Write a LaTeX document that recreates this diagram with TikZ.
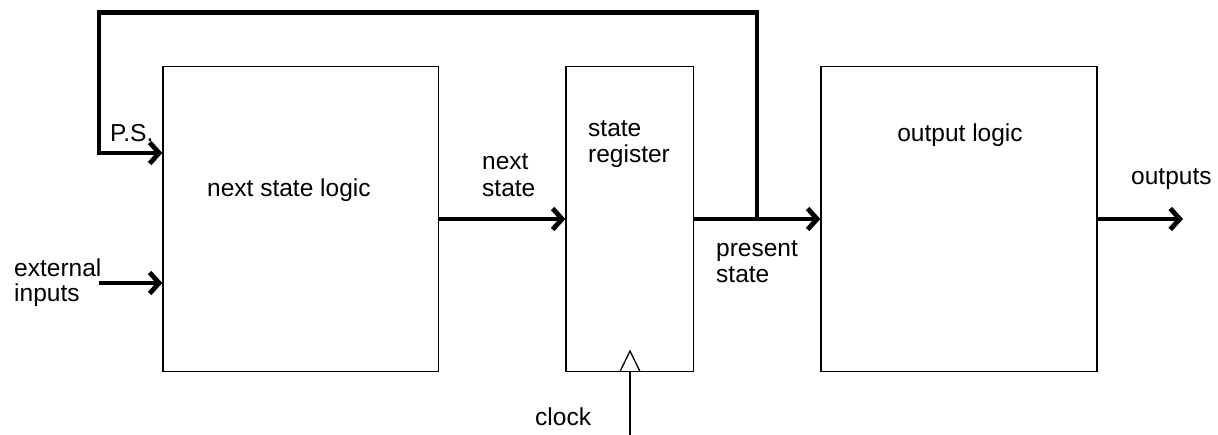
\documentclass[tikz,border=0pt]{standalone}
\usepackage{fontspec}
\setmainfont{Liberation Sans}
\usetikzlibrary{arrows.meta}
\begin{document}
\begin{tikzpicture}[x=1pt,y=-1pt,
  blk/.style={draw, line width=1.3pt, inner sep=0pt},
  bus/.style={line width=4.8pt, line join=miter},
  arr/.style={bus, -{Straight Barb[length=9.5pt,width=21pt]}},
  thin/.style={line width=1.3pt},
  lbl/.style={anchor=base west, inner sep=0pt, font=\fontsize{24.5}{28}\selectfont}]
\useasboundingbox (0,0) rectangle (1218,435);

% blocks
\node[blk, minimum width=275.5pt, minimum height=305pt] (nsl) at (300.75,219) {};
\node[blk, minimum width=127.5pt, minimum height=305pt] (sr)  at (629.75,219) {};
\node[blk, minimum width=276pt,   minimum height=305pt] (ol)  at (959,219) {};

% block labels
\node[lbl] (tnsl) at (207,197) {next state logic};
\node[lbl] (tsr1) at (588,137) {state};
\node[lbl] (tsr2) at (588,163) {register};
\node[lbl, anchor=base] (tol) at (960,142) {output logic};

% clock input
\draw[thin] (620,371.5) coordinate (ck1) -- (630,351) -- (640,371.5);
\coordinate (ckin) at (630,435);
\draw[thin] (ckin) -- (630,371.5);
\node[lbl] (tck) at (535,425) {clock};

% signal paths
\draw[arr] (nsl.east) -- (sr.west);
\draw[arr] (sr.east) -- (ol.west);
\coordinate (j) at (757,219);
\coordinate (fbtop) at (757,12.5);
\coordinate (fbleft) at (99,153);
\draw[arr] (j) -- (fbtop) -| (fbleft) -- (nsl.west |- fbleft);
\coordinate (ext) at (99,283);
\draw[arr] (ext) -- (nsl.west |- ext);
\coordinate (out) at (1183,219);
\draw[arr] (ol.east) -- (out);

% signal labels
\node[lbl] (tps) at (110,142) {P.S.};
\node[lbl] (tex1) at (14,277) {external};
\node[lbl] (tex2) at (14,302) {inputs};
\node[lbl] (tns1) at (482,170) {next};
\node[lbl] (tns2) at (482,197) {state};
\node[lbl] (tpr1) at (716,257) {present};
\node[lbl] (tpr2) at (716,283) {state};
\node[lbl] (tout) at (1131,185) {outputs};
\end{tikzpicture}
\end{document}
